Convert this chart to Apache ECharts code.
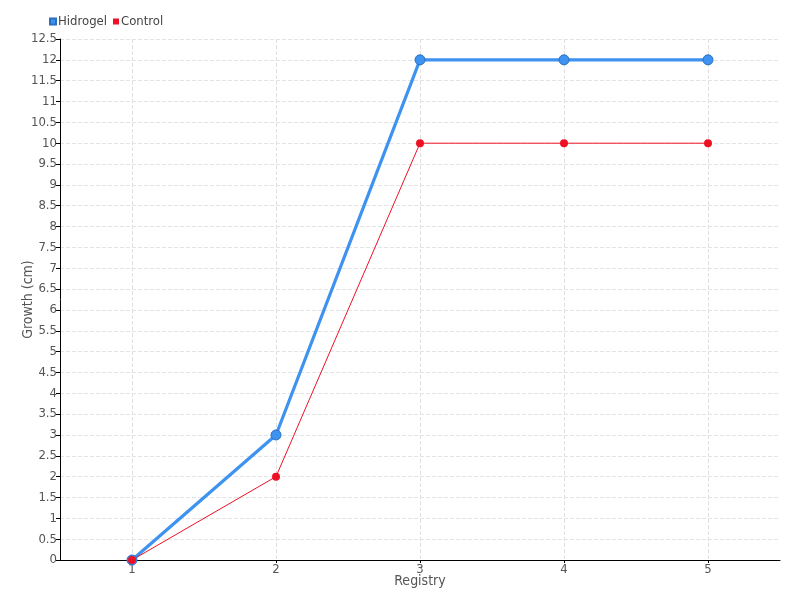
<!DOCTYPE html>
<html>
<head>
<meta charset="utf-8">
<script src="https://cdn.jsdelivr.net/npm/echarts@6/dist/echarts.min.js"></script>
<style>
  html, body { margin: 0; padding: 0; background: #fff; }
  #chart { width: 800px; height: 600px; }
</style>
</head>
<body>
<div id="chart"></div>
<script>
// data
const registry = [1, 2, 3, 4, 5]
const hidrogel = [0, 3, 12, 12, 12]
const control = [0, 2, 10, 10, 10]

const font = '"DejaVu Sans Condensed", "DejaVu Sans", sans-serif'
const chart = echarts.init(document.getElementById('chart'))

const option = {
  animation: false,
  textStyle: { fontFamily: font },
  legend: {
    left: 44,
    top: 10,
    itemWidth: 6,
    itemHeight: 6,
    itemGap: 6,
    icon: 'rect',
    textStyle: { fontFamily: font, fontSize: 13, color: '#444', padding: [0, 0, 0, -3] },
    data: ['Hidrogel', 'Control']
  },
  grid: { left: 60, right: 20, top: 39, bottom: 40, outerBoundsMode: 'none' },
  xAxis: {
    type: 'value',
    min: 0.5,
    max: 5.5,
    name: 'Registry',
    nameLocation: 'middle',
    nameGap: 14,
    nameMoveOverlap: false,
    nameTextStyle: { fontFamily: font, fontSize: 14, color: '#555' },
    axisLine: { onZero: false, lineStyle: { color: '#000', width: 1 } },
    axisTick: { show: true, customValues: registry, length: 3, lineStyle: { color: '#000' } },
    axisLabel: { customValues: registry, fontFamily: font, fontSize: 13, color: '#555', margin: 3 },
    splitLine: { show: true, lineStyle: { type: 'dashed', color: '#e0e0e0' } }
  },
  yAxis: {
    type: 'value',
    min: 0,
    max: 12.5,
    interval: 0.5,
    name: 'Growth (cm)',
    nameLocation: 'middle',
    nameGap: 25,
    nameMoveOverlap: false,
    nameTextStyle: { fontFamily: font, fontSize: 14, color: '#555' },
    axisLine: { show: true, lineStyle: { color: '#000', width: 1 } },
    axisTick: { show: true, length: 4, lineStyle: { color: '#000' } },
    axisLabel: { fontFamily: font, fontSize: 13, color: '#555', margin: 3 },
    splitLine: { show: true, lineStyle: { type: 'dashed', color: '#e4e4e4' } }
  },
  series: [
    {
      name: 'Hidrogel',
      type: 'line',
      data: registry.map((r, i) => [r, hidrogel[i]]),
      color: '#3f93f0',
      symbol: 'circle',
      symbolSize: 10,
      lineStyle: { width: 3.2, color: '#3f93f0' },
      itemStyle: { color: '#3f93f0', borderColor: '#2a6fc4', borderWidth: 1 }
    },
    {
      name: 'Control',
      type: 'line',
      data: registry.map((r, i) => [r, control[i]]),
      color: '#ee1125',
      symbol: 'circle',
      symbolSize: 8,
      lineStyle: { width: 1, color: '#ee1125' },
      itemStyle: { color: '#ee1125' }
    }
  ]
}
chart.setOption(option)
</script>
</body>
</html>
